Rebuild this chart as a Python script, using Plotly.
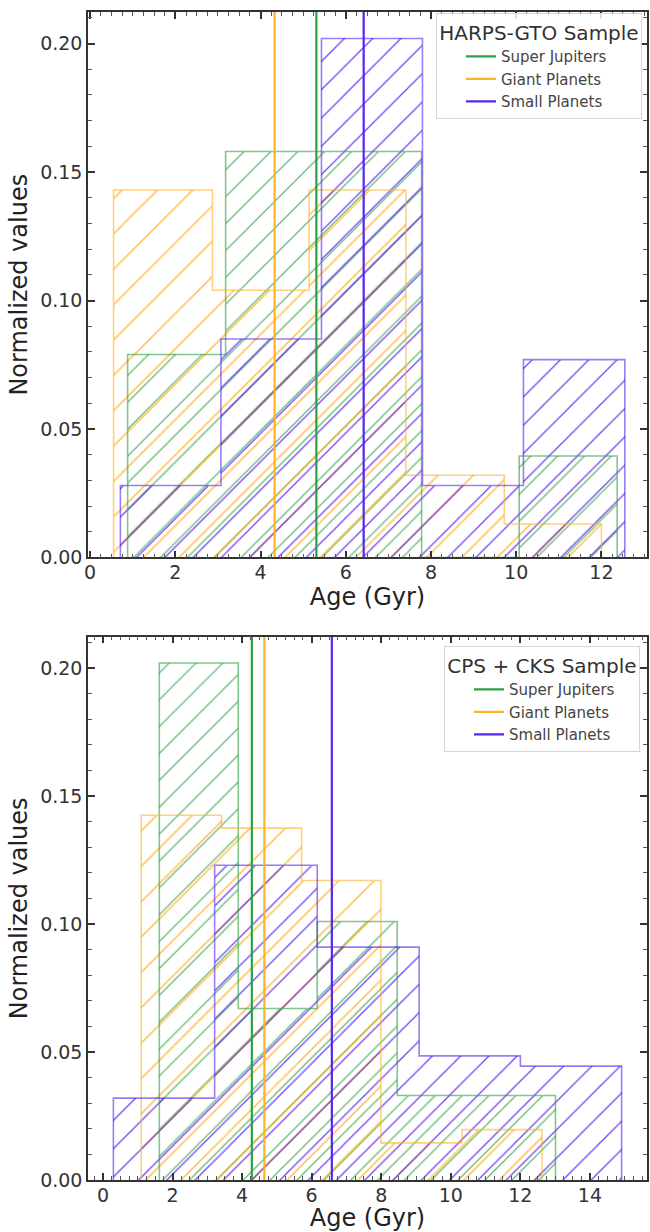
import plotly.graph_objects as go

# ---------------- data ----------------
# Top panel: HARPS-GTO sample (normalized histograms, bin edges in Gyr)
harps_sj_edges = [0.88, 3.18, 5.48, 7.78, 10.07, 12.37]
harps_sj_vals = [0.079, 0.158, 0.158, 0.0, 0.0395]
harps_gp_edges = [0.55, 2.87, 5.14, 7.41, 9.72, 12.00]
harps_gp_vals = [0.143, 0.104, 0.143, 0.032, 0.013]
harps_sp_edges = [0.71, 3.07, 5.43, 7.80, 10.17, 12.55]
harps_sp_vals = [0.028, 0.085, 0.202, 0.028, 0.077]
harps_medians = {"Super Jupiters": 5.31, "Giant Planets": 4.33, "Small Planets": 6.42}

# Bottom panel: CPS + CKS sample
cps_sj_edges = [1.62, 3.89, 6.16, 8.46, 10.73, 13.01]
cps_sj_vals = [0.202, 0.067, 0.101, 0.033, 0.033]
cps_gp_edges = [1.10, 3.41, 5.71, 7.99, 10.32, 12.62]
cps_gp_vals = [0.1425, 0.1375, 0.117, 0.0145, 0.0197]
cps_sp_edges = [0.30, 3.21, 6.16, 9.09, 12.00, 14.91]
cps_sp_vals = [0.032, 0.123, 0.091, 0.0485, 0.0445]
cps_medians = {"Super Jupiters": 4.28, "Giant Planets": 4.64, "Small Planets": 6.58}

series_names = ["Super Jupiters", "Giant Planets", "Small Planets"]
x_ticks_top = [0, 2, 4, 6, 8, 10, 12]
x_ticks_bot = [0, 2, 4, 6, 8, 10, 12, 14]
y_ticks = [0.00, 0.05, 0.10, 0.15, 0.20]
Y_MAX = 0.2123

# ---------------- styles ----------------
RGB = {"Super Jupiters": (46, 160, 64), "Giant Planets": (255, 178, 40), "Small Planets": (88, 36, 240)}
HATCH_SIZE = {"Super Jupiters": 19, "Giant Planets": 25, "Small Planets": 20}
HATCH_ALPHA = {"Super Jupiters": 0.75, "Giant Planets": 0.75, "Small Planets": 0.85}


def rgba(name, a):
    r, g, b = RGB[name]
    return f"rgba({r},{g},{b},{a})"


FONT = "DejaVu Sans"
fig = go.Figure()


def add_hist(edges, vals, name, xa, ya):
    centers = [(edges[i] + edges[i + 1]) / 2 for i in range(len(vals))]
    widths = [edges[i + 1] - edges[i] for i in range(len(vals))]
    fig.add_trace(go.Bar(
        x=centers, y=vals, width=widths, xaxis=xa, yaxis=ya, showlegend=False,
        marker=dict(color="rgba(0,0,0,0)", line=dict(width=0),
                    pattern=dict(shape="/", fgcolor=rgba(name, HATCH_ALPHA[name]), bgcolor="rgba(0,0,0,0)",
                                 size=HATCH_SIZE[name], solidity=0.065, fillmode="replace")),
        hoverinfo="skip"))
    xs, ys = [edges[0]], [0]
    for i, v in enumerate(vals):
        xs += [edges[i], edges[i + 1]]
        ys += [v, v]
    xs.append(edges[-1])
    ys.append(0)
    fig.add_trace(go.Scatter(x=xs, y=ys, mode="lines", xaxis=xa, yaxis=ya, showlegend=False,
                             line=dict(color=rgba(name, 0.6), width=1.6), hoverinfo="skip"))


def add_median(x, name, xa, ya, legend):
    fig.add_trace(go.Scatter(x=[x, x], y=[0, Y_MAX], mode="lines", name=name, xaxis=xa, yaxis=ya,
                             legend=legend, line=dict(color=rgba(name, 1.0), width=2.2)))


top = [(harps_sj_edges, harps_sj_vals), (harps_gp_edges, harps_gp_vals), (harps_sp_edges, harps_sp_vals)]
bot = [(cps_sj_edges, cps_sj_vals), (cps_gp_edges, cps_gp_vals), (cps_sp_edges, cps_sp_vals)]
for name, (e, v) in zip(series_names, top):
    add_hist(e, v, name, "x", "y")
for name, (e, v) in zip(series_names, bot):
    add_hist(e, v, name, "x2", "y2")
for name in series_names:
    add_median(harps_medians[name], name, "x", "y", "legend")
for name in series_names:
    add_median(cps_medians[name], name, "x2", "y2", "legend2")

axis_common = dict(
    showgrid=False, zeroline=False, showline=True, linecolor="#333", linewidth=1.5,
    mirror="allticks", ticks="inside", ticklen=7, tickwidth=1.5, tickcolor="#333",
    tickfont=dict(family=FONT, size=19, color="#333"),
    minor=dict(ticks="inside", ticklen=4, tickwidth=1, tickcolor="#555"),
)

xtitle = dict(text="Age (Gyr)", font=dict(family=FONT, size=24, color="#222"), standoff=4)
ytitle = dict(text="Normalized values", font=dict(family=FONT, size=24, color="#222"), standoff=6)

legend_common = dict(
    xanchor="right", yanchor="top", indentation=24,
    bgcolor="rgba(255,255,255,0.85)", bordercolor="#d6d6d6", borderwidth=1,
    font=dict(family=FONT, size=15, color="#444"),
)

fig.update_layout(
    width=650, height=1232,
    margin=dict(l=88, r=1, t=12, b=52),
    plot_bgcolor="white", paper_bgcolor="white",
    barmode="overlay", bargap=0,
    font=dict(family=FONT, color="#222"),
    xaxis=dict(axis_common, domain=[0, 1], range=[-0.05, 13.07], anchor="y", ticklabelstandoff=-3,
               tickvals=x_ticks_top, minor_dtick=0.25, minor_tick0=0, title=xtitle),
    yaxis=dict(axis_common, domain=[0.533, 1.0], range=[0, Y_MAX], anchor="x",
               tickvals=y_ticks, tickformat=".2f", minor_dtick=0.01, minor_tick0=0, title=ytitle),
    xaxis2=dict(axis_common, domain=[0, 1], range=[-0.43, 15.64], anchor="y2", ticklabelstandoff=-3,
                tickvals=x_ticks_bot, minor_dtick=0.25, minor_tick0=0, title=xtitle),
    yaxis2=dict(axis_common, domain=[0, 0.4652], range=[0, Y_MAX], anchor="x2",
                tickvals=y_ticks, tickformat=".2f", minor_dtick=0.01, minor_tick0=0, title=ytitle),
    legend=dict(legend_common, x=0.991, y=0.999,
                title=dict(text="HARPS-GTO Sample", side="top center",
                           font=dict(family=FONT, size=20, color="#333"))),
    legend2=dict(legend_common, x=0.9875, y=0.457,
                 title=dict(text="CPS + CKS Sample", side="top center",
                            font=dict(family=FONT, size=20, color="#333"))),
)

fig.write_html("out.html")
